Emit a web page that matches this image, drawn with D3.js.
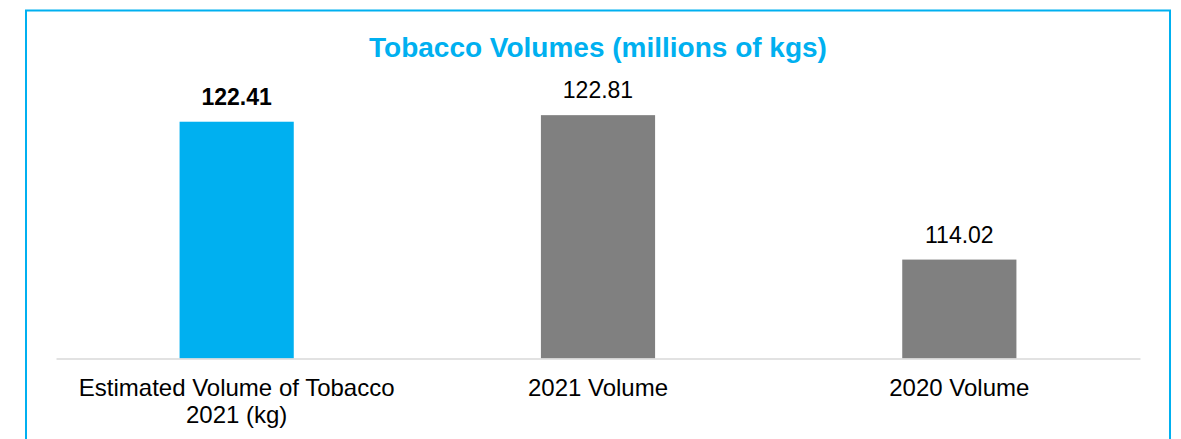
<!DOCTYPE html>
<html>
<head>
<meta charset="utf-8">
<script src="https://cdn.jsdelivr.net/npm/d3@7"></script>
<style>
  html, body { margin: 0; padding: 0; background: #fff; }
  svg { display: block; font-family: Arial, "Liberation Sans", sans-serif; }
</style>
</head>
<body>
<svg id="chart" width="1181" height="439"></svg>
<script>
// Tobacco volumes, millions of kgs
const categories = [["Estimated Volume of Tobacco", "2021 (kg)"], ["2021 Volume"], ["2020 Volume"]];
const values = [122.41, 122.81, 114.02];
const barColors = ["#00B0F0", "#808080", "#808080"];
const labelWeights = ["bold", "normal", "normal"];
const yDomain = [108, 124];

const svg = d3.select("#chart");

// chart frame
svg.append("rect")
  .attr("x", 26).attr("y", 10.5)
  .attr("width", 1144).attr("height", 520)
  .attr("fill", "none")
  .attr("stroke", "#00B0F0")
  .attr("stroke-width", 2);

// title
svg.append("text")
  .attr("x", 598).attr("y", 56.5)
  .attr("text-anchor", "middle")
  .attr("font-size", 28)
  .attr("font-weight", "bold")
  .attr("fill", "#00B0F0")
  .text("Tobacco Volumes (millions of kgs)");

const plot = { left: 56, right: 1140, top: 95.6, bottom: 358.5 };

const x = d3.scaleBand()
  .domain(d3.range(values.length))
  .range([plot.left, plot.right])
  .paddingInner(0.684)
  .paddingOuter(0.342);

const y = d3.scaleLinear()
  .domain(yDomain)
  .range([plot.bottom, plot.top]);

// bars
svg.append("g").selectAll("rect")
  .data(values)
  .join("rect")
  .attr("x", (d, i) => x(i))
  .attr("y", d => y(d))
  .attr("width", x.bandwidth())
  .attr("height", d => y(yDomain[0]) - y(d))
  .attr("fill", (d, i) => barColors[i]);

// value labels
svg.append("g").selectAll("text")
  .data(values)
  .join("text")
  .attr("x", (d, i) => x(i) + x.bandwidth() / 2)
  .attr("y", d => y(d) - 17)
  .attr("text-anchor", "middle")
  .attr("font-size", 23)
  .attr("font-weight", (d, i) => labelWeights[i])
  .attr("fill", "#000")
  .text(d => d.toFixed(2));

// category axis
const xAxis = svg.append("g")
  .attr("transform", `translate(0,${plot.bottom})`)
  .call(d3.axisBottom(x).tickSize(0).tickFormat(""));
xAxis.select(".domain")
  .attr("stroke", "#D9D9D9")
  .attr("stroke-width", 1.5);

const catLabels = svg.append("g").selectAll("text")
  .data(categories)
  .join("text")
  .attr("x", (d, i) => x(i) + x.bandwidth() / 2)
  .attr("y", 395.7)
  .attr("text-anchor", "middle")
  .attr("font-size", 24)
  .attr("fill", "#000");

catLabels.each(function(lines) {
  const t = d3.select(this);
  const cx = t.attr("x");
  lines.forEach((line, k) => {
    t.append("tspan")
      .attr("x", cx)
      .attr("dy", k === 0 ? 0 : 27.5)
      .text(line);
  });
});
</script>
</body>
</html>
